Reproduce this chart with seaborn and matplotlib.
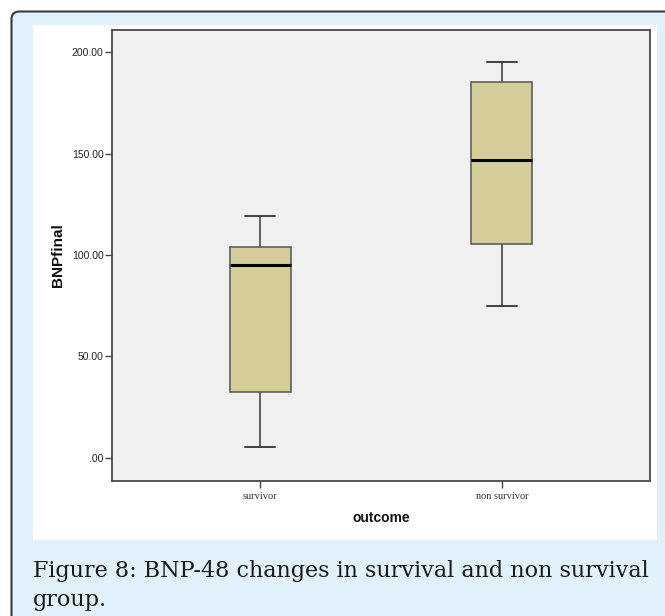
import numpy as np
import pandas as pd
import matplotlib
matplotlib.use("Agg")
import matplotlib.pyplot as plt
from matplotlib.patches import FancyBboxPatch, Rectangle
import seaborn as sns

# ---- data (five-number summaries) ----
categories = ["survivor", "non survivor"]
survivor_vals = [5.5, 32.5, 95.0, 104.0, 119.0]
nonsurvivor_vals = [75.0, 105.5, 147.0, 185.5, 195.0]
y_ticks = [0, 50, 100, 150, 200]
y_tick_labels = [".00", "50.00", "100.00", "150.00", "200.00"]
x_label = "outcome"
y_label = "BNPfinal"
caption = "Figure 8: BNP-48 changes in survival and non survival\ngroup."

df = pd.DataFrame({
    "outcome": [categories[0]] * len(survivor_vals) + [categories[1]] * len(nonsurvivor_vals),
    "BNPfinal": survivor_vals + nonsurvivor_vals,
})

sns.set_theme(style="white")
plt.rcParams["font.family"] = ["Liberation Sans", "DejaVu Sans"]

W, H = 665, 616
fig = plt.figure(figsize=(W / 100, H / 100), dpi=100)
fig.patch.set_facecolor("white")

# outer light-blue panel with dark border
outer = FancyBboxPatch((11.5 / W, -20 / H), (W + 20 - 11.5) / W, (H - 11.5 + 20) / H,
                       boxstyle="round,pad=0,rounding_size=0.012",
                       transform=fig.transFigure, facecolor="#e1f1fb",
                       edgecolor="#3a3a3a", linewidth=1.5, zorder=-2)
fig.patches.append(outer)
# inner white panel
inner = Rectangle((33 / W, (H - 540) / H), (657 - 33) / W, (540 - 25) / H,
                  transform=fig.transFigure, facecolor="white", edgecolor="none", zorder=-1)
fig.patches.append(inner)

ax = fig.add_axes([112 / W, (H - 481) / H, (650 - 112) / W, (481 - 30) / H])
ax.set_zorder(2)
ax.set_facecolor("#f0f0f0")

sns.boxplot(data=df, x="outcome", y="BNPfinal", order=categories, ax=ax,
            width=0.252, whis=np.inf, color="#d3ce97", saturation=1,
            linecolor="#555555", linewidth=1.1, showfliers=False,
            medianprops=dict(color="black", linewidth=2.2),
            whiskerprops=dict(color="#555555", linewidth=1.3),
            capprops=dict(color="#333333", linewidth=1.3))

ax.set_xlim(-0.612, 1.612)
ax.set_ylim(-11.5, 211.0)
ax.set_yticks(y_ticks)
ax.set_yticklabels(y_tick_labels, fontsize=7.5, color="#222222")
ax.set_xticks([0, 1])
ax.set_xticklabels(categories, fontsize=7.5, color="#333333", family=["Liberation Serif"])
ax.tick_params(axis="y", direction="out", length=5, width=1, color="#444444", left=True, pad=1)
ax.tick_params(axis="x", direction="out", length=5, width=1, color="#444444", bottom=True, pad=3)

for s in ax.spines.values():
    s.set_visible(True)
    s.set_color("#4a4a4a")
    s.set_linewidth(1.3)

ax.set_xlabel(x_label, fontsize=10, fontweight="bold", color="#111111", labelpad=7)
ax.set_ylabel(y_label, fontsize=11, fontweight="bold", color="#111111", labelpad=5)

fig.text(33 / W, 1 - 560 / H, caption, fontsize=16, family=["DejaVu Serif"],
         color="#1a1a1a", ha="left", va="top", linespacing=1.4)

fig.savefig("out.png", dpi=100, facecolor=fig.get_facecolor())
